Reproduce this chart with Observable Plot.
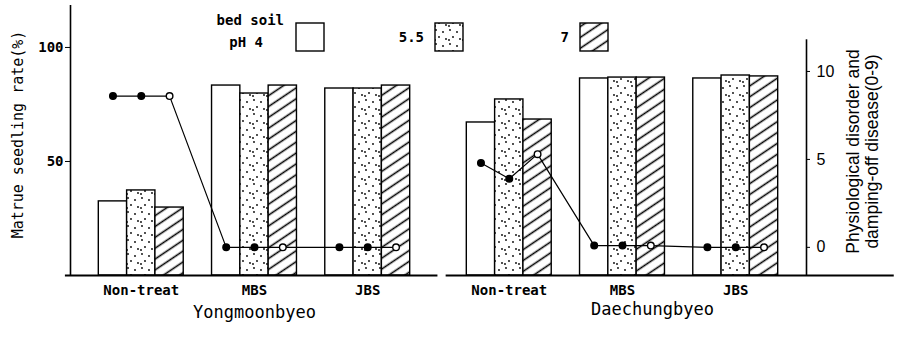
<!DOCTYPE html>
<html><head><meta charset="utf-8">
<script src="https://cdn.jsdelivr.net/npm/d3@7"></script>
<script src="https://cdn.jsdelivr.net/npm/@observablehq/plot@0.6"></script>
<style>
html,body{margin:0;padding:0;background:#fff;}
#wrap{position:relative;width:900px;height:342px;}
#legend{position:absolute;left:0;top:0;}
</style></head><body>
<div id="wrap"></div>
<script>
// ---- data ----
const panels = ["Yongmoonbyeo", "Daechungbyeo"];
const groups = ["Non-treat", "MBS", "JBS"];
const phLevels = ["4", "5.5", "7"];
const seedlingYong  = [[32.5, 37.3, 29.8], [83.3, 79.8, 83.3], [82.0, 82.0, 83.3]];
const seedlingDaech = [[67.1, 77.2, 68.4], [86.4, 86.8, 86.8], [86.4, 87.7, 87.3]];
const diseaseYong   = [[8.6, 8.6, 8.6], [0, 0, 0], [0, 0, 0]];
const diseaseDaech  = [[4.8, 3.9, 5.3], [0.1, 0.1, 0.1], [0, 0, 0]];
const leftTicks = [50, 100];
const rightTicks = [0, 5, 10];
const yLabel = "Matrue seedling rate(%)";
const rightLabel = "Physiological disorder and\ndamping-off disease(0-9)";
const legendHead = ["bed soil", "pH 4"];

// ---- layout helpers ----
const MONO = "'DejaVu Sans Mono', monospace";
const SANS = "'Liberation Sans', Arial, sans-serif";
const slotsPerPanel = 13;             // 3 groups * (3 bars + 1 gap) + 1 panel gap
const nSlots = 26;
const slotOf = (p, g, k) => 1 + p * slotsPerPanel + g * 4 + k;
const yMax = 118.4;                   // left scale top
const dLo = -1.6, dHi = 13.75;        // right scale range over same pixels
const toLeft = d => (d - dLo) / (dHi - dLo) * yMax;
const fromLeft = v => v / yMax * (dHi - dLo) + dLo;

const seedling = [seedlingYong, seedlingDaech];
const disease = [diseaseYong, diseaseDaech];
const bars = [], pts = [];
panels.forEach((pn, p) => groups.forEach((gn, g) => phLevels.forEach((ph, k) => {
  const s = slotOf(p, g, k);
  bars.push({panel: pn, group: gn, ph, k, s, v: seedling[p][g][k]});
  pts.push({panel: pn, group: gn, ph, k, s, d: disease[p][g][k]});
})));
const tickSlots = [], tickNames = new Map();
panels.forEach((pn, p) => groups.forEach((gn, g) => {
  const c = slotOf(p, g, 1) + 0.5;
  tickSlots.push(c); tickNames.set(c, gn);
}));
const baselines = [
  {a: -0.18, b: slotsPerPanel - 0.02},
  {a: slotsPerPanel + 0.27, b: nSlots + 3.1}
];
const fills = ["white", "url(#dotPat)", "url(#hatchPat)"];

const plot = Plot.plot({
  width: 900, height: 342,
  marginLeft: 70, marginRight: 94, marginTop: 5, marginBottom: 67,
  style: {fontFamily: MONO, fontSize: "13.5px", background: "white", overflow: "visible", color: "black"},
  x: {type: "linear", domain: [0, nSlots]},
  y: {domain: [0, yMax]},
  marks: [
    Plot.rectY(bars, {x1: "s", x2: d => d.s + 1, y: "v", fill: d => fills[d.k], stroke: "black", strokeWidth: 1.4}),
    Plot.ruleY(baselines, {x1: "a", x2: "b", y: 0, stroke: "black", strokeWidth: 2}),
    Plot.ruleX([0], {y1: 0, y2: yMax, stroke: "black", strokeWidth: 1.6}),
    Plot.ruleX([nSlots], {y1: 0, y2: toLeft(11.8), stroke: "black", strokeWidth: 1.6}),
    Plot.axisY({ticks: leftTicks, tickSize: 5, tickPadding: 2, label: null, fontSize: 14, fontFamily: MONO, fontWeight: "bold"}),
    Plot.axisY({anchor: "right", ticks: rightTicks.map(toLeft), tickFormat: v => String(Math.round(fromLeft(v))),
      tickSize: 3, tickPadding: 7, label: null, fontSize: 16, fontFamily: SANS}),
    Plot.axisX({ticks: tickSlots, tickFormat: v => tickNames.get(v), tickSize: 0, tickPadding: 10,
      label: null, fontSize: 14, fontFamily: MONO, fontWeight: "bold"}),
    Plot.line(pts, {x: d => d.s + 0.5, y: d => toLeft(d.d), z: "panel", stroke: "black", strokeWidth: 1.2}),
    Plot.dot(pts, {x: d => d.s + 0.5, y: d => toLeft(d.d), r: 3.3, fill: d => d.k === 2 ? "white" : "black",
      stroke: "black", strokeWidth: 1.4}),
    Plot.text([panels[0]], {x: slotOf(0, 1, 1) + 0.5, frameAnchor: "bottom", dy: 42, fontSize: 17, fontFamily: MONO}),
    Plot.text([panels[1]], {x: slotOf(1, 1, 1) + 0.5, frameAnchor: "bottom", dx: 30, dy: 39, fontSize: 17, fontFamily: MONO}),
    Plot.text([yLabel], {frameAnchor: "left", textAnchor: "middle", dx: -52, dy: -6, rotate: -90, fontSize: 15, fontFamily: MONO}),
    Plot.text([rightLabel], {frameAnchor: "right", textAnchor: "middle", dx: 56, dy: 11, rotate: -90, fontSize: 17.5, lineHeight: 1.08, fontFamily: SANS})
  ]
});
document.getElementById("wrap").appendChild(plot);

// patterns
const svg = d3.select(plot);
const defs = svg.insert("defs", ":first-child");
const dp = defs.append("pattern").attr("id", "dotPat").attr("patternUnits", "userSpaceOnUse")
  .attr("width", 14).attr("height", 14);
dp.append("rect").attr("width", 14).attr("height", 14).attr("fill", "white");
[[2, 2], [9, 4], [5, 9], [12, 11], [1, 12]].forEach(([x, y]) =>
  dp.append("circle").attr("cx", x).attr("cy", y).attr("r", 0.9).attr("fill", "black"));
const hp = defs.append("pattern").attr("id", "hatchPat").attr("patternUnits", "userSpaceOnUse")
  .attr("width", 9).attr("height", 9).attr("patternTransform", "rotate(56)");
hp.append("rect").attr("width", 9).attr("height", 9).attr("fill", "white");
hp.append("line").attr("x1", 4.5).attr("y1", 0).attr("x2", 4.5).attr("y2", 9)
  .attr("stroke", "black").attr("stroke-width", 1.6);

// legend overlay
const leg = d3.select("#wrap").append("svg").attr("id", "legend").attr("width", 900).attr("height", 60)
  .style("font-family", MONO).style("font-size", "14px").style("font-weight", "bold");
leg.append("text").attr("x", 284).attr("y", 25).attr("text-anchor", "end").text(legendHead[0]);
leg.append("text").attr("x", 263).attr("y", 47).attr("text-anchor", "end").text(legendHead[1]);
const boxes = [{x: 296, label: null}, {x: 435, label: phLevels[1]}, {x: 580, label: phLevels[2]}];
boxes.forEach((b, i) => {
  leg.append("rect").attr("x", b.x).attr("y", 23).attr("width", 28).attr("height", 28)
    .attr("fill", fills[i]).attr("stroke", "black").attr("stroke-width", 1.4);
  if (b.label) leg.append("text").attr("x", b.x - 11).attr("y", 42).attr("text-anchor", "end").text(b.label);
});
</script>
</body></html>
